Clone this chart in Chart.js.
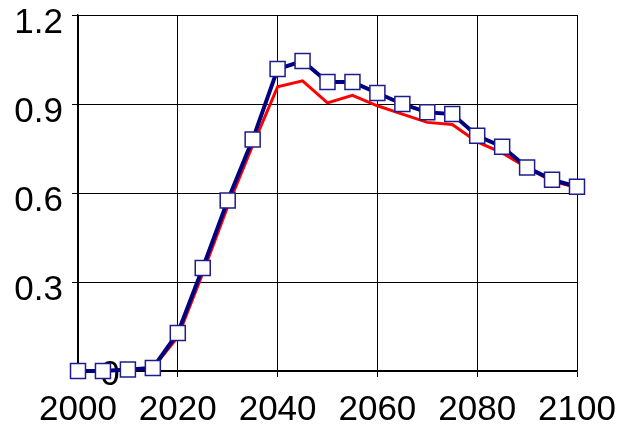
<!DOCTYPE html>
<html>
<head>
<meta charset="utf-8">
<script src="https://cdn.jsdelivr.net/npm/chart.js@4/dist/chart.umd.min.js"></script>
<style>
  html, body { margin: 0; padding: 0; background: #fff; }
  #wrap { width: 623px; height: 429px; }
</style>
</head>
<body>
<div id="wrap"><canvas id="myChart"></canvas></div>
<script>
// data
const years = [2000, 2005, 2010, 2015, 2020, 2025, 2030, 2035, 2040, 2045, 2050,
               2055, 2060, 2065, 2070, 2075, 2080, 2085, 2090, 2095, 2100];
const blueValues = [0, 0, 0.005, 0.01, 0.128, 0.347, 0.575, 0.78, 1.018, 1.045, 0.974,
                    0.974, 0.937, 0.90, 0.872, 0.866, 0.793, 0.756, 0.686, 0.645, 0.621];
const redValues = [0, 0, 0.005, 0.01, 0.115, 0.33, 0.555, 0.76, 0.958, 0.978, 0.904,
                   0.929, 0.894, 0.866, 0.838, 0.831, 0.772, 0.735, 0.685, 0.64, 0.618];
const xTicks = [2000, 2020, 2040, 2060, 2080, 2100];
const yTicks = [0, 0.3, 0.6, 0.9, 1.2];

function toPoints(vals){
    return years.map(function(y, i){ return {x: y, y: vals[i]}; });
}

// the stray "0" label sitting behind the first markers
const zeroLabel = {
    id: 'zeroLabel',
    beforeDatasetsDraw(chart){
        const ctx = chart.ctx;
        const xs = chart.scales.x, ys = chart.scales.y;
        ctx.save();
        ctx.font = '35px "Liberation Sans", Arial, sans-serif';
        ctx.fillStyle = '#000';
        ctx.textAlign = 'center';
        ctx.textBaseline = 'middle';
        ctx.fillText('0', xs.getPixelForValue(2006.4), ys.getPixelForValue(0) + 4);
        ctx.restore();
    }
};

const ctx = document.getElementById('myChart').getContext('2d');
const myChart = new Chart(ctx, {
    type: 'line',
    data: {
        datasets: [{
            data: toPoints(blueValues),
            borderColor: '#000080',
            borderWidth: 4,
            pointStyle: 'rect',
            pointRadius: 10.6,
            pointBackgroundColor: '#ffffff',
            pointBorderColor: '#1c1c8c',
            pointBorderWidth: 1.5,
            tension: 0,
            clip: false
        }, {
            data: toPoints(redValues),
            borderColor: '#ff0000',
            borderWidth: 3,
            pointRadius: 0,
            tension: 0,
            clip: false
        }]
    },
    options: {
        responsive: true,
        maintainAspectRatio: false,
        animation: false,
        layout: { padding: { top: 15, right: 46, left: 0, bottom: 0 } },
        plugins: {
            legend: { display: false },
            tooltip: { enabled: false }
        },
        scales: {
            x: {
                type: 'linear',
                min: 2000,
                max: 2100,
                afterBuildTicks: function(s){ s.ticks = xTicks.map(function(v){ return {value: v}; }); },
                afterFit: function(s){ s.height = 58; s.paddingLeft = 0; s.paddingRight = 0; },
                grid: { color: '#000', lineWidth: 1, tickLength: 6, drawTicks: true },
                border: { color: '#000', width: 1.5 },
                ticks: {
                    color: '#000',
                    padding: 12,
                    maxRotation: 0,
                    font: { family: '"Liberation Sans", Arial, sans-serif', size: 35 },
                    callback: function(v){ return String(v); }
                }
            },
            y: {
                min: 0,
                max: 1.2,
                afterBuildTicks: function(s){ s.ticks = yTicks.map(function(v){ return {value: v}; }); },
                afterFit: function(s){ s.width = 78; s.paddingTop = 0; s.paddingBottom = 0; },
                grid: { color: '#000', lineWidth: 1, tickLength: 6 },
                border: { color: '#000', width: 1.5 },
                ticks: {
                    color: '#000',
                    padding: 9,
                    labelOffset: 8,
                    font: { family: '"Liberation Sans", Arial, sans-serif', size: 35 },
                    callback: function(v){ return v === 0 ? '' : v.toFixed(1); }
                }
            }
        }
    },
    plugins: [zeroLabel]
});
</script>
</body>
</html>
